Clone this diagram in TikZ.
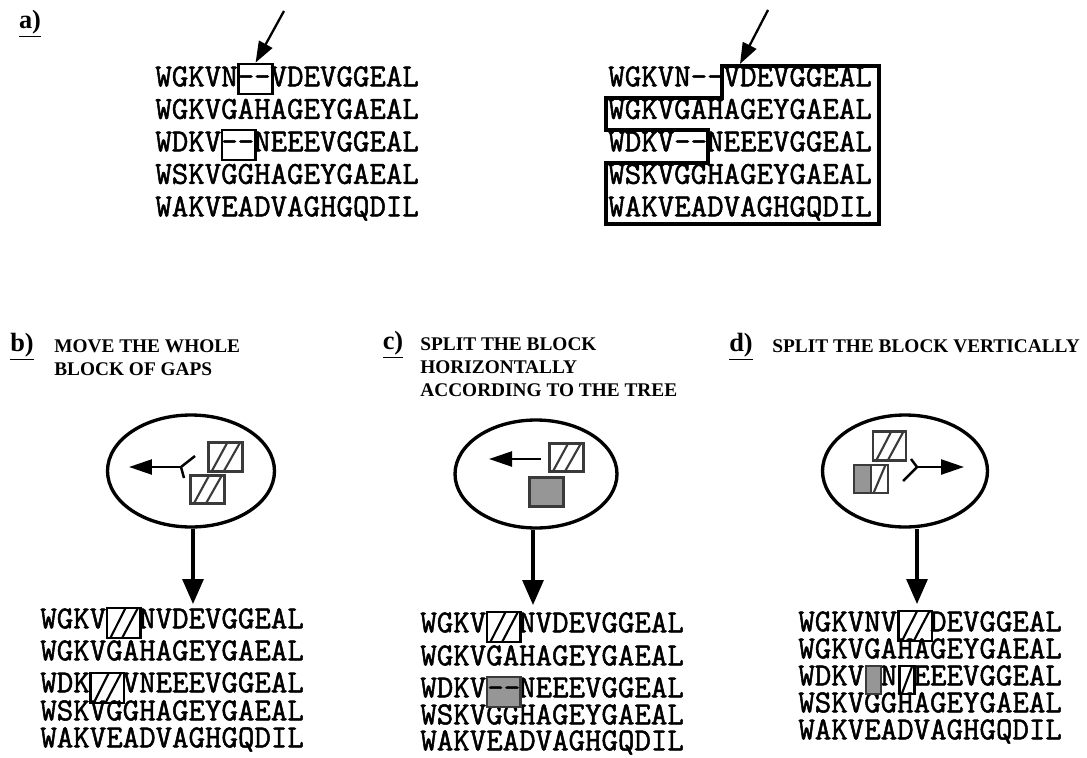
\documentclass[tikz,border=0pt]{standalone}
\usepackage{fontspec}
\setmainfont{Liberation Serif}
\newfontfamily\seqfont{Latin Modern Mono}[FakeBold=1.6, Ligatures=TeXOff]
\usetikzlibrary{shapes.geometric, arrows.meta, calc}
\definecolor{gapgray}{HTML}{969696}
\definecolor{edgegray}{HTML}{3A3A3A}
\newcommand\ppb{path picture bounding box}

\begin{document}
\begin{tikzpicture}[
  x=0.02cm, y=-0.02cm,
  seq/.style={font=\seqfont\fontsize{18.2}{20}\selectfont, anchor=west,
              inner sep=0pt, text height=0.6em, text depth=0pt},
  hdr/.style={font=\bfseries\fontsize{11}{13.3}\selectfont, anchor=north west,
              align=left, inner sep=0pt},
  tag/.style={font=\bfseries\fontsize{15}{17}\selectfont, inner sep=0pt},
  gapbox/.style={draw, line width=1.6pt, inner sep=0pt},
  twochar/.style={minimum width=0.67cm, minimum height=0.6cm},
  onechar/.style={minimum width=0.3cm, minimum height=0.56cm},
  tile/.style={minimum width=0.69cm, minimum height=0.57cm},
  halftile/.style={minimum width=0.34cm, minimum height=0.56cm},
  hatch/.style={draw=edgegray, line width=1.5pt, inner sep=0pt,
    path picture={
      \draw[line width=1.2pt] ($(\ppb.south west)!0.1!(\ppb.south east)$) -- ($(\ppb.north west)!0.55!(\ppb.north east)$);
      \draw[line width=1.2pt] ($(\ppb.south west)!0.45!(\ppb.south east)$) -- ($(\ppb.north west)!0.92!(\ppb.north east)$);}},
  hatchone/.style={draw=edgegray, line width=1.5pt, inner sep=0pt,
    path picture={
      \draw[line width=1.2pt] ($(\ppb.south west)!0.15!(\ppb.south east)$) -- ($(\ppb.north west)!0.85!(\ppb.north east)$);}},
  grayblock/.style={fill=gapgray, draw=edgegray, line width=1.5pt, inner sep=0pt,
                    font=\seqfont\fontsize{18.2}{20}\selectfont},
  oval/.style={ellipse, draw, line width=1.9pt, inner sep=0pt},
  blockline/.style={line width=1.8pt, line join=miter},
  toparr/.style={-{Triangle[length=0.42cm, width=0.3cm]}, line width=1.3pt},
  bigarr/.style={-{Triangle[length=0.5cm, width=0.42cm]}, line width=1.8pt},
  smallarr/.style={-{Triangle[length=0.46cm, width=0.3cm]}, line width=1.4pt},
  forkline/.style={line width=1.4pt}
]
  \useasboundingbox (0,0) rectangle (1087,757);

  % a) the two alignments
  \node[tag] (tagA) at (30,24) {\underline{a)}};
  \node[seq] (la1) at (155,81)    {WGKVN--VDEVGGEAL};
  \node[seq] (la2) at (155,113.5) {WGKVGAHAGEYGAEAL};
  \node[seq] (la3) at (155,146)   {WDKV--NEEEVGGEAL};
  \node[seq] (la4) at (155,178.5) {WSKVGGHAGEYGAEAL};
  \node[seq] (la5) at (155,211)   {WAKVEADVAGHGQDIL};
  \node[gapbox, twochar] (lg1) at (255.6,79) {};
  \node[gapbox, twochar] (lg2) at (238.8,145) {};
  \coordinate (ltail) at (284,11);
  \draw[toparr] (ltail) -- (lg1.north);

  \node[seq] (ra1) at (608,81)    {WGKVN--VDEVGGEAL};
  \node[seq] (ra2) at (608,113.5) {WGKVGAHAGEYGAEAL};
  \node[seq] (ra3) at (608,146)   {WDKV--NEEEVGGEAL};
  \node[seq] (ra4) at (608,178.5) {WSKVGGHAGEYGAEAL};
  \node[seq] (ra5) at (608,211)   {WAKVEADVAGHGQDIL};
  \draw[blockline] (722,66) -- (879,66) -- (879,224) -- (606,224) -- (606,163)
    -- (708,163) -- (708,130) -- (606,130) -- (606,98) -- (722,98) -- cycle;
  \coordinate (rtail) at (768,10);
  \coordinate (rtip) at (740,64);
  \draw[toparr] (rtail) -- (rtip);

  % b) move the whole block
  \node[tag] (tagB) at (22,347) {\underline{b)}};
  \node[hdr] (hdrB) at (54,339) {MOVE THE WHOLE\\BLOCK OF GAPS};
  \node[oval, minimum width=3.34cm, minimum height=2.24cm] (ellB) at (191,471) {};
  \node[hatch, tile] (bt1) at (225.5,457) {};
  \node[hatch, tile] (bt2) at (207.5,489.5) {};
  \coordinate (forkB) at (181,467);
  \coordinate (tipB) at (129,467);
  \draw[smallarr] (forkB) -- (tipB);
  \draw[forkline] (195,456) -- (forkB) -- (184,478);
  \coordinate (downB) at (193,604);
  \draw[bigarr] (downB |- ellB.south) -- (downB);
  \node[seq] (b1) at (40,623) {WGKV\phantom{--}NVDEVGGEAL};
  \node[seq] (b2) at (40,655) {WGKVGAHAGEYGAEAL};
  \node[seq] (b3) at (40,687) {WDK\phantom{--}VNEEEVGGEAL};
  \node[seq] (b4) at (40,715) {WSKVGGHAGEYGAEAL};
  \node[seq] (b5) at (40,742) {WAKVEADVAGHGQDIL};
  \node[hatch, twochar, draw=black] (bh1) at (123.8,623) {};
  \node[hatch, twochar, draw=black] (bh2) at (107.1,688) {};

  % c) split horizontally
  \node[tag] (tagC) at (393,345) {\underline{c)}};
  \node[hdr] (hdrC) at (420,337) {SPLIT THE BLOCK\\HORIZONTALLY\\ACCORDING TO THE TREE};
  \node[oval, minimum width=3.24cm, minimum height=2.16cm] (ellC) at (536,474) {};
  \node[hatch, tile] (ct1) at (566.5,457.5) {};
  \node[grayblock, tile] (ct2) at (546.5,492) {};
  \coordinate (tailC) at (541,459);
  \coordinate (tipC) at (489,459);
  \draw[smallarr] (tailC) -- (tipC);
  \coordinate (downC) at (533,605);
  \draw[bigarr] (downC |- ellC.south) -- (downC);
  \node[seq] (c1) at (420,627) {WGKV\phantom{--}NVDEVGGEAL};
  \node[seq] (c2) at (420,660) {WGKVGAHAGEYGAEAL};
  \node[seq] (c3) at (420,692) {WDKV\phantom{--}NEEEVGGEAL};
  \node[seq] (c4) at (420,719) {WSKVGGHAGEYGAEAL};
  \node[seq] (c5) at (420,745) {WAKVEADVAGHGQDIL};
  \node[hatch, twochar, draw=black] (ch1) at (503.8,627) {};
  \node[grayblock, twochar] (cg1) at (503.8,692) {--};

  % d) split vertically
  \node[tag] (tagD) at (741,347) {\underline{d)}};
  \node[hdr] (hdrD) at (772,339) {SPLIT THE BLOCK VERTICALLY};
  \node[oval, minimum width=3.3cm, minimum height=2.24cm] (ellD) at (905,471) {};
  \node[hatch, tile, minimum width=0.66cm] (dt1) at (889.5,446) {};
  \node[grayblock, halftile] (dt2) at (862.5,479) {};
  \node[hatchone, halftile] (dt3) at (879.5,479) {};
  \coordinate (forkD) at (917,467);
  \coordinate (tipD) at (964,467);
  \draw[smallarr] (forkD) -- (tipD);
  \draw[forkline] (903,481) -- (forkD) -- (911,459);
  \coordinate (downD) at (917,604);
  \draw[bigarr] (downD |- ellD.south) -- (downD);
  \node[seq] (d1) at (798,626) {WGKVNV\phantom{--}DEVGGEAL};
  \node[seq] (d2) at (798,653) {WGKVGAHAGEYGAEAL};
  \node[seq] (d3) at (798,680) {WDKV\phantom{-}N\phantom{-}EEEVGGEAL};
  \node[seq] (d4) at (798,707) {WSKVGGHAGEYGAEAL};
  \node[seq] (d5) at (798,734) {WAKVEADVAGHGQDIL};
  \node[hatch, twochar, draw=black] (dh1) at (915.4,626) {};
  \node[grayblock, onechar] (dg1) at (873.5,680) {};
  \node[hatchone, onechar, draw=black] (dh2) at (907,680) {};
\end{tikzpicture}
\end{document}
